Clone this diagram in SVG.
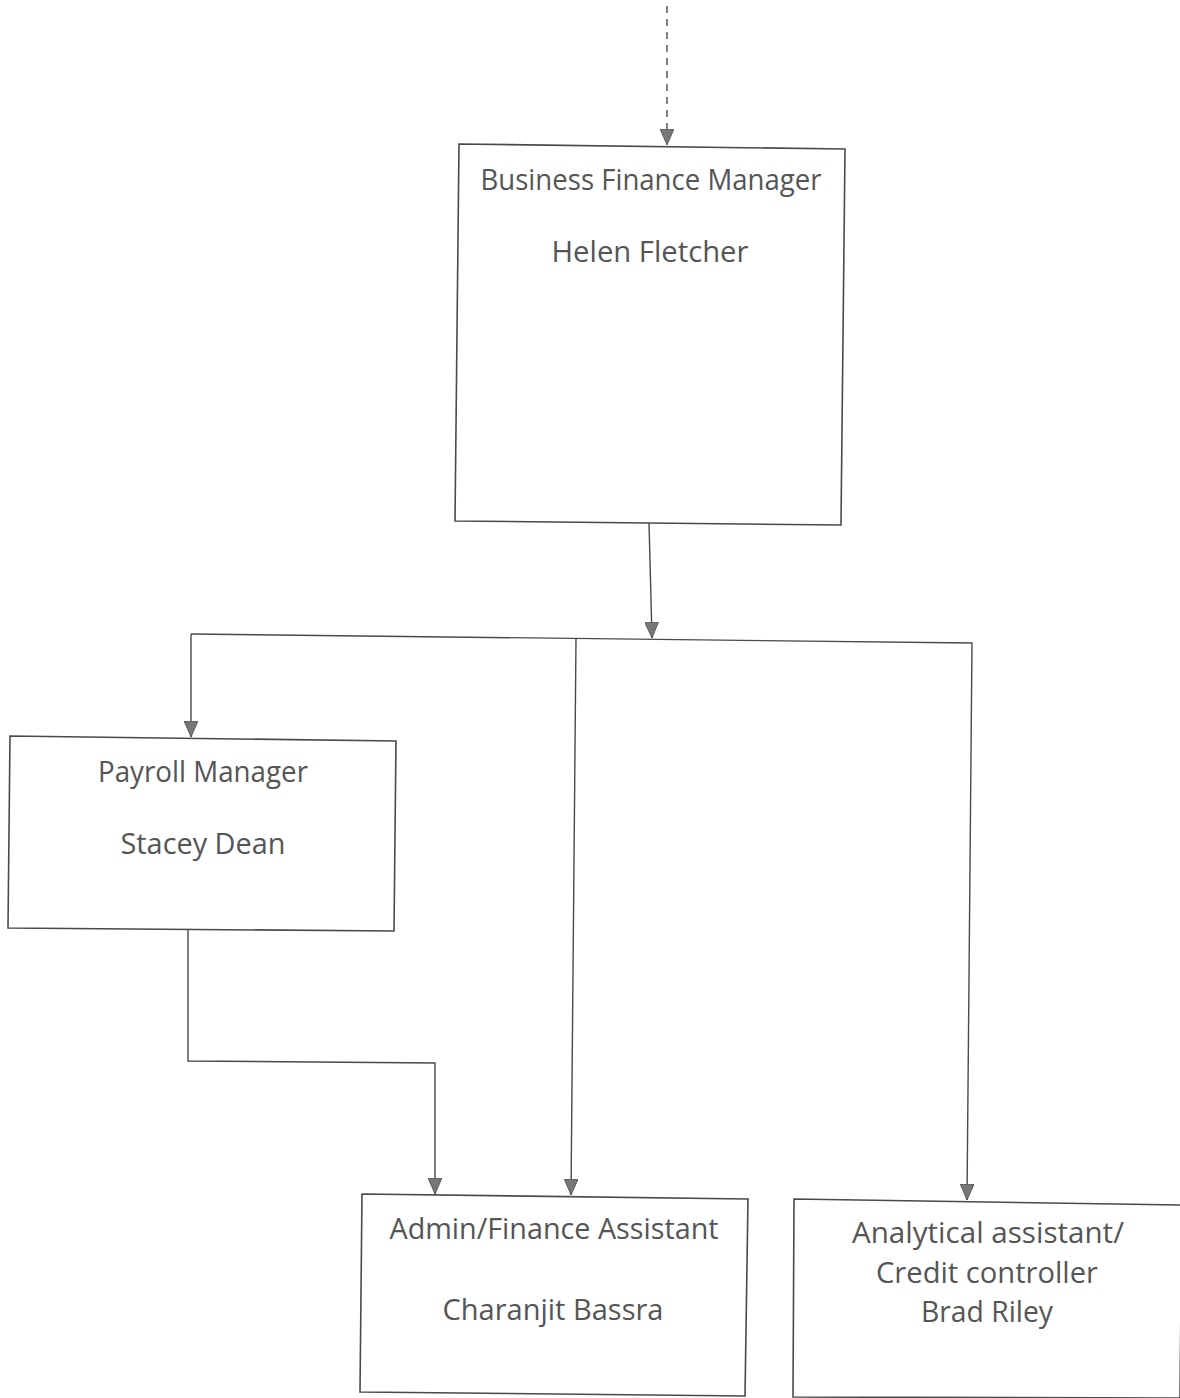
<svg xmlns="http://www.w3.org/2000/svg" width="1180" height="1398" viewBox="0 0 1180 1398">
<style>
.box{fill:#ffffff;stroke:#4a4a4a;stroke-width:1.6}
.ln{fill:none;stroke:#4a4a4a;stroke-width:1.4}
.dash{stroke-dasharray:7 6}
.t{font-family:"Open Sans","DejaVu Sans",sans-serif;font-size:29px;fill:#555555;text-anchor:middle}
</style>
<defs>
<marker id="ad" viewBox="0 0 16 14" refX="16" refY="7" markerWidth="16" markerHeight="14" markerUnits="userSpaceOnUse" orient="auto">
<path d="M0,0 L16,7 L0,14 Z" fill="#777777" stroke="#4a4a4a" stroke-width="0.8"/>
</marker>
</defs>
<rect width="1180" height="1398" fill="#ffffff"/>
<g id="connectors">
<line class="ln dash" x1="667" y1="6" x2="667" y2="145" marker-end="url(#ad)"/>
<line class="ln" x1="649" y1="523" x2="652" y2="638" marker-end="url(#ad)"/>
<polyline class="ln" points="191,634 972,643 967,1200" marker-end="url(#ad)"/>
<line class="ln" x1="191" y1="634" x2="191" y2="737" marker-end="url(#ad)"/>
<line class="ln" x1="576" y1="638" x2="571" y2="1195" marker-end="url(#ad)"/>
<polyline class="ln" points="188,930 188,1061 435,1063 435,1194" marker-end="url(#ad)"/>
</g>
<g id="node-bfm">
<polygon class="box" points="459,144 845,149 841,525 455,521"/>
<text class="t" x="651" y="190" textLength="341" lengthAdjust="spacingAndGlyphs">Business Finance Manager</text>
<text class="t" x="650" y="262" textLength="197" lengthAdjust="spacingAndGlyphs">Helen Fletcher</text>
</g>
<g id="node-payroll">
<polygon class="box" points="10,736 396,741 394,931 8,928"/>
<text class="t" x="203" y="782" textLength="210" lengthAdjust="spacingAndGlyphs">Payroll Manager</text>
<text class="t" x="203" y="854" textLength="165" lengthAdjust="spacingAndGlyphs">Stacey Dean</text>
</g>
<g id="node-admin">
<polygon class="box" points="362,1194 748,1199 745,1396 360,1392"/>
<text class="t" x="554" y="1239" textLength="329" lengthAdjust="spacingAndGlyphs">Admin/Finance Assistant</text>
<text class="t" x="553" y="1320" textLength="221" lengthAdjust="spacingAndGlyphs">Charanjit Bassra</text>
</g>
<g id="node-analytical">
<polygon class="box" points="794,1199 1182,1205 1180,1398 793,1397"/>
<text class="t" x="988" y="1243" textLength="272" lengthAdjust="spacingAndGlyphs">Analytical assistant/</text>
<text class="t" x="987" y="1283" textLength="222" lengthAdjust="spacingAndGlyphs">Credit controller</text>
<text class="t" x="987" y="1322" textLength="132" lengthAdjust="spacingAndGlyphs">Brad Riley</text>
</g>
</svg>
